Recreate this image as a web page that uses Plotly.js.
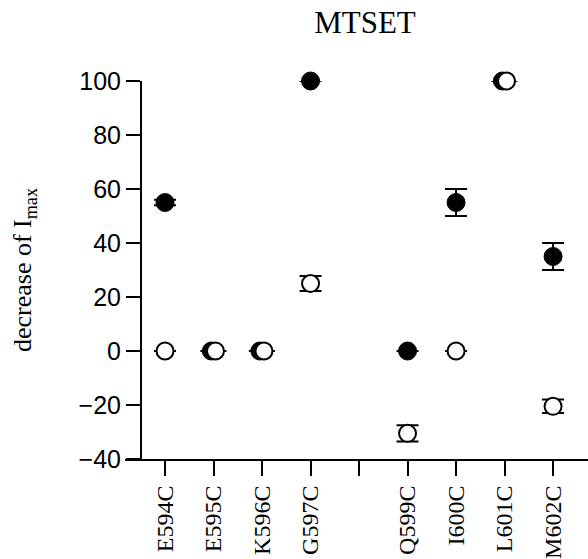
<!DOCTYPE html>
<html>
<head>
<meta charset="utf-8">
<script src="https://cdn.plot.ly/plotly-3.0.1.min.js"></script>
<style>html,body{margin:0;padding:0;background:#fff;}#chart{width:588px;height:559px;}</style>
</head>
<body>
<div id="chart"></div>
<script>
// Mutant labels (598 has no construct: blank tick)
const categories = ["E594C", "E595C", "K596C", "G597C", "", "Q599C", "I600C", "L601C", "M602C"];
// Filled circles
const filledIdx = [0, 1, 2, 3, 5, 6, 7, 8];
const filledVal = [55, 0, 0, 100, 0, 55, 100, 35];
const filledErr = [1, 0, 0, 0, 0, 5, 0, 5];
// Open circles
const openIdx = [0, 1, 2, 3, 5, 6, 7, 8];
const openVal = [0, 0, 0, 25, -30.5, 0, 100, -20.5];
const openErr = [0, 0, 0, 2.8, 3, 0, 0, 2.5];
const yTicks = [-40, -20, 0, 20, 40, 60, 80, 100];

// overlapping points at the same value are slightly staggered, as in the figure
function offsets(idxArr, valA, valB, d) {
  return idxArr.map((x, i) => (valA[i] === valB[i] ? x + d : x));
}
const fx = offsets(filledIdx, filledVal, openVal, -0.045);
const ox = offsets(openIdx, openVal, filledVal, 0.04);

const tickIdx = categories.map((c, i) => i);

const traces = [
  {
    x: fx, y: filledVal, type: "scatter", mode: "markers", cliponaxis: false,
    marker: {symbol: "circle", size: 18, color: "#000", line: {color: "#000", width: 1}},
    error_y: {type: "data", array: filledErr, visible: true, color: "#000", thickness: 2, width: 11},
    showlegend: false
  },
  {
    x: ox, y: openVal, type: "scatter", mode: "markers", cliponaxis: false,
    marker: {symbol: "circle", size: 17, color: "#fff", line: {color: "#000", width: 2}},
    error_y: {type: "data", array: openErr, visible: true, color: "#000", thickness: 2, width: 11},
    showlegend: false
  }
];

const layout = {
  width: 588, height: 559,
  margin: {l: 125, r: 0, t: 81, b: 100, pad: 0},
  paper_bgcolor: "#fff", plot_bgcolor: "#fff",
  font: {family: "Liberation Sans, Arial, sans-serif", color: "#000"},
  title: {
    text: "MTSET",
    font: {family: "Liberation Serif, Times New Roman, serif", size: 31, color: "#000"},
    x: 365 / 588, xref: "container", xanchor: "center",
    y: 1 - 22 / 559, yref: "container", yanchor: "middle"
  },
  xaxis: {
    range: [-0.825, 8.72],
    tickmode: "array", tickvals: tickIdx, ticktext: categories,
    tickangle: -90, ticks: "outside", ticklen: 15, tickwidth: 2, tickcolor: "#000",
    tickfont: {family: "Liberation Serif, Times New Roman, serif", size: 24, color: "#000"},
    showline: true, linecolor: "#000", linewidth: 2,
    showgrid: false, zeroline: false, fixedrange: true
  },
  yaxis: {
    range: [-40, 100],
    tickmode: "array", tickvals: yTicks,
    anchor: "free", position: 16 / 463,
    ticks: "outside", ticklen: 14, tickwidth: 2, tickcolor: "#000",
    tickfont: {family: "Liberation Sans, Arial, sans-serif", size: 25, color: "#000"},
    showline: true, linecolor: "#000", linewidth: 2,
    showgrid: false, zeroline: false, fixedrange: true,
    title: {
      text: "decrease of I<sub>max</sub>",
      font: {family: "Liberation Serif, Times New Roman, serif", size: 26, color: "#000"},
      standoff: 38
    }
  }
};

Plotly.newPlot("chart", traces, layout, {staticPlot: true, displayModeBar: false});
</script>
</body>
</html>
